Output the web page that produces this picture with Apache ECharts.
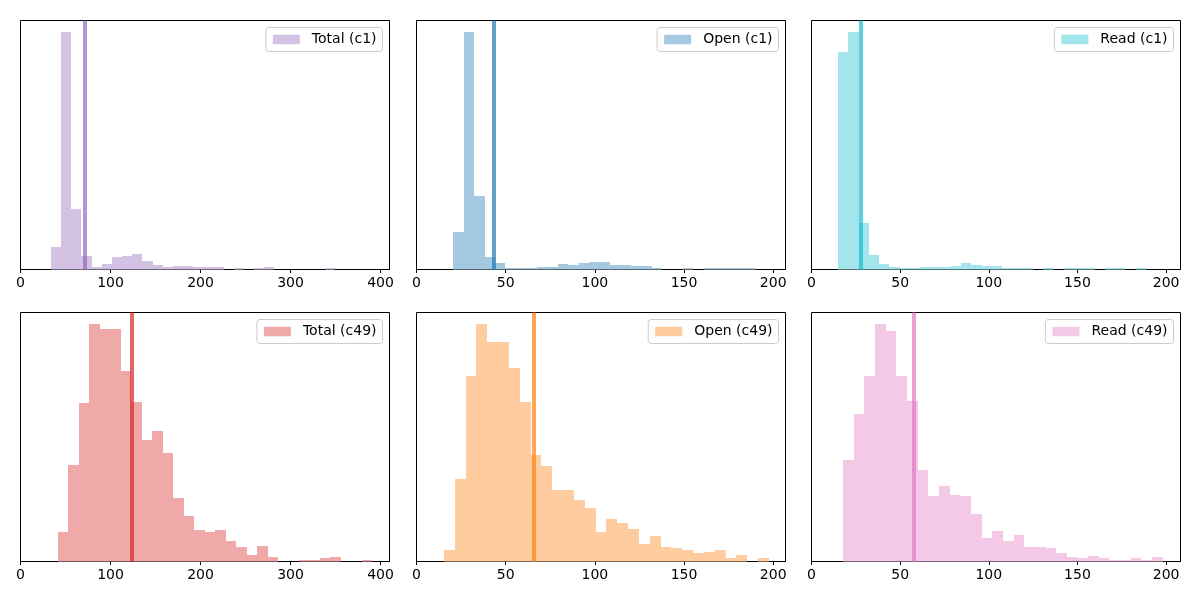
<!DOCTYPE html>
<html>
<head>
<meta charset="utf-8">
<script src="https://cdn.jsdelivr.net/npm/echarts@6/dist/echarts.min.js"></script>
<style>
html,body{margin:0;padding:0;background:#fff;}
#chart{width:1200px;height:600px;}
</style>
</head>
<body>
<div id="chart"></div>
<script>
// ---- tick labels ----
const ticksTotal = [0, 100, 200, 300, 400];
const ticksSmall = [0, 50, 100, 150, 200];

// ---- histogram data (30 equal bins between binRange[0] and binRange[1]) ----
const totalC1Range = [33.8, 372.5];
const totalC1Counts = [22,237,60,13,2,5,12,13,15,8,4,2,3,3,2,2,2,0,1,0,1,2,0,0,0,0,0,1,0,0];
const totalC1Mean = 71.4;

const openC1Range = [20.6, 196.2];
const openC1Counts = [37,237,73,12,6,1,1,1,2,2,5,4,6,7,7,4,4,3,3,1,0,0,1,0,1,1,1,1,1,0];
const openC1Mean = 43.5;

const readC1Range = [15.0, 188.6];
const readC1Counts = [217,237,46,14,5,2,1,1,2,2,2,3,6,4,3,3,1,1,1,0,1,0,1,1,1,0,1,1,0,1];
const readC1Mean = 27.7;

const totalC49Range = [41.6, 391.0];
const totalC49Counts = [29,96,158,237,232,232,190,159,121,130,108,63,45,31,29,31,20,14,6,15,4,0,0,1,1,3,4,0,0,1];
const totalC49Mean = 123.7;

const openC49Range = [15.4, 197.6];
const openC49Counts = [11,82,185,237,219,219,193,159,106,95,71,71,61,53,29,42,38,32,17,25,14,13,11,8,9,11,3,6,0,3];
const openC49Mean = 65.9;

const readC49Range = [17.8, 198.1];
const readC49Counts = [101,147,185,237,230,185,160,91,65,75,66,65,47,23,30,20,26,14,14,13,8,4,3,5,3,1,1,3,1,4];
const readC49Mean = 57.5;

const panels = [
  {name:'Total (c1)',  range: totalC1Range,  counts: totalC1Counts,  mean: totalC1Mean,  ticks: ticksTotal, xmax: 410,   bar:'#d4c2e5', line:'rgba(148,103,189,0.7)'},
  {name:'Open (c1)',   range: openC1Range,   counts: openC1Counts,   mean: openC1Mean,   ticks: ticksSmall, xmax: 206.9, bar:'#a5c9e1', line:'rgba(31,119,180,0.7)'},
  {name:'Read (c1)',   range: readC1Range,   counts: readC1Counts,   mean: readC1Mean,   ticks: ticksSmall, xmax: 208.1, bar:'#a2e5ec', line:'rgba(23,190,207,0.7)'},
  {name:'Total (c49)', range: totalC49Range, counts: totalC49Counts, mean: totalC49Mean, ticks: ticksTotal, xmax: 410,   bar:'#efa9a9', line:'rgba(214,39,40,0.7)'},
  {name:'Open (c49)',  range: openC49Range,  counts: openC49Counts,  mean: openC49Mean,  ticks: ticksSmall, xmax: 206.9, bar:'#ffcc9f', line:'rgba(255,127,14,0.7)'},
  {name:'Read (c49)',  range: readC49Range,  counts: readC49Counts,  mean: readC49Mean,  ticks: ticksSmall, xmax: 208.1, bar:'#f4c9e7', line:'rgba(227,119,194,0.7)'}
];

// layout
const lefts = [20.5, 416.5, 811.5];
const tops = [20.5, 312.5];
const W = 369, H = 249;
const FONT = 'DejaVu Sans';

function renderBin(params, api) {
  if (!(api.value(2) > 0)) return null;
  const p0 = api.coord([api.value(0), api.value(2)]);
  const p1 = api.coord([api.value(1), 0]);
  const x0 = Math.round(p0[0]), x1 = Math.round(p1[0]);
  const y0 = Math.round(p0[1]), y1 = Math.round(p1[1]);
  return {
    type: 'rect',
    shape: {x: x0, y: y0, width: x1 - x0, height: y1 - y0},
    style: {fill: api.visual('color')}
  };
}

const grid = [], xAxis = [], yAxis = [], series = [], legend = [];
panels.forEach((p, i) => {
  const col = i % 3, row = Math.floor(i / 3);
  grid.push({left: lefts[col], top: tops[row], width: W, height: H, show: true,
             borderColor: '#000', borderWidth: 1, backgroundColor: 'transparent', containLabel: false});
  xAxis.push({type: 'value', gridIndex: i, min: 0, max: p.xmax,
    splitLine: {show: false},
    axisLine: {show: true, onZero: false, lineStyle: {color: '#000', width: 1}},
    axisTick: {show: true, inside: false, length: 3.5, lineStyle: {color: '#000', width: 1}, customValues: p.ticks},
    axisLabel: {show: true, margin: 7, color: '#000', fontFamily: FONT, fontSize: 14, customValues: p.ticks,
                showMaxLabel: true, showMinLabel: true, hideOverlap: false}
  });
  const ymax = Math.max(...p.counts) * 1.05;
  yAxis.push({type: 'value', gridIndex: i, min: 0, max: ymax, show: false, splitLine: {show: false}});
  const n = p.counts.length;
  const w = (p.range[1] - p.range[0]) / n;
  const data = p.counts.map((c, k) => [p.range[0] + k * w, p.range[0] + (k + 1) * w, c]);
  series.push({
    name: p.name, type: 'custom', xAxisIndex: i, yAxisIndex: i,
    renderItem: renderBin, data: data, encode: {x: [0, 1], y: 2},
    itemStyle: {color: p.bar}, silent: true, animation: false, clip: true,
    markLine: {symbol: 'none', silent: true, animation: false,
      label: {show: false}, emphasis: {disabled: true},
      lineStyle: {color: p.line, width: 4, type: 'solid', opacity: 1},
      data: [{xAxis: p.mean}]}
  });
  legend.push({
    data: [p.name], selectedMode: false,
    right: 1200 - (lefts[col] + W) + 7, top: tops[row] + 7,
    orient: 'vertical',
    icon: 'rect', itemWidth: 27, itemHeight: 9.5,
    padding: [5, 6, 5, 7],
    borderColor: '#cccccc', borderWidth: 1, borderRadius: 3,
    backgroundColor: 'rgba(255,255,255,0.8)',
    textStyle: {fontFamily: FONT, fontSize: 14, color: '#000', padding: [0, 0, 0, 7]}
  });
});

const chart = echarts.init(document.getElementById('chart'), null, {renderer: 'canvas'});
chart.setOption({animation: false, grid, xAxis, yAxis, series, legend});
</script>
</body>
</html>
